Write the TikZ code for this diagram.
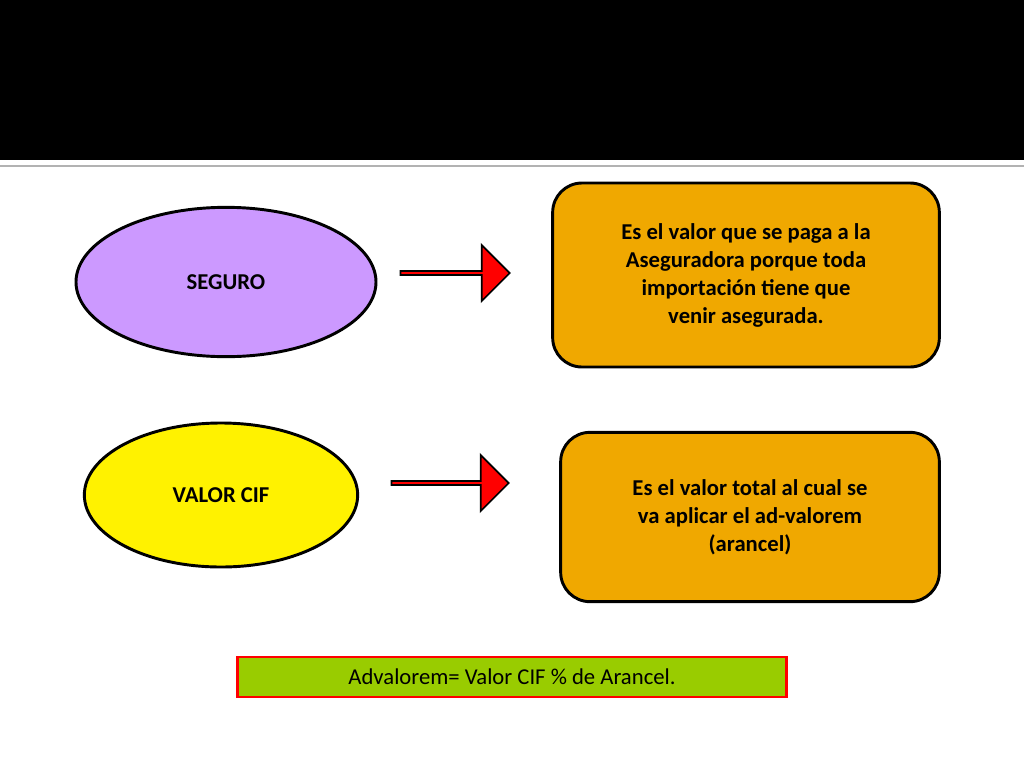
\documentclass[tikz,border=0pt]{standalone}
\usepackage{fontspec}
\setmainfont{Carlito}
\usetikzlibrary{shapes.geometric,shapes.arrows}
\definecolor{boxor}{HTML}{F0A800}
\definecolor{lil}{HTML}{CC99FF}
\definecolor{grn}{HTML}{99CC00}
\tikzset{
  ell/.style={ellipse,draw=black,line width=2.2pt,font=\bfseries\fontsize{17}{20}\selectfont},
  obox/.style={draw=black,line width=2.2pt,fill=boxor,rounded corners=22pt,align=center,font=\bfseries\fontsize{17}{21}\selectfont},
  rarrow/.style={single arrow,draw=black,line width=1.3pt,fill=red,single arrow head extend=8pt,minimum height=82pt,minimum width=42pt,inner sep=0pt}
}
\begin{document}
\begin{tikzpicture}[x=0.75pt,y=-0.75pt]
\useasboundingbox (0,0) rectangle (1024,768);
\fill[white] (0,0) rectangle (1024,768);
\fill[black] (0,0) rectangle (1024,160);
\draw[gray!60,line width=1.5pt] (0,166) -- (1024,166);
\node[ell,fill=lil,minimum width=225pt,minimum height=112pt] (s) at (226,282) {SEGURO};
\node[ell,fill=yellow,minimum width=205pt,minimum height=108pt] (c) at (221,495) {VALOR CIF};
\node[rarrow] (a1) at (454,273) {};
\node[rarrow,minimum height=88pt] (a2) at (449,483) {};
\node[obox,minimum width=290pt,minimum height=138pt] (b1) at (746,275) {Es el valor que se paga a la\\Aseguradora porque toda\\importación tiene que\\venir asegurada.};
\node[obox,minimum width=284pt,minimum height=127pt] (b2) at (750,517) {Es el valor total al cual se\\ va aplicar el ad-valorem\\(arancel)};
\node[draw=red,line width=1.8pt,fill=grn,minimum width=412pt,minimum height=30pt,font=\fontsize{17}{20}\selectfont] (f) at (512,677) {Advalorem= Valor CIF \% de Arancel.};
\end{tikzpicture}
\end{document}
